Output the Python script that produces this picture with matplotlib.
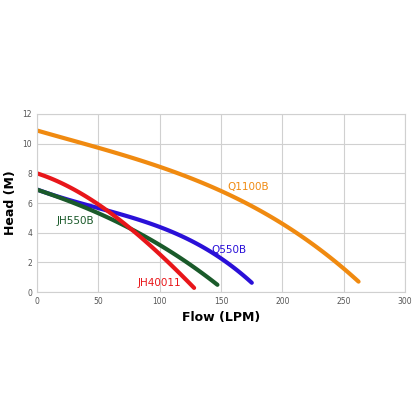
import matplotlib.pyplot as plt
import numpy as np

q1100_x = [0, 50, 100, 150, 200, 230, 262]
q1100_y = [10.9, 9.7, 8.4, 6.9, 4.6, 2.8, 0.75]
q550_x = [0, 50, 100, 130, 150, 175]
q550_y = [6.9, 5.7, 4.3, 3.3, 2.3, 0.6]
jh550_x = [0, 50, 100, 125, 147]
jh550_y = [6.9, 5.3, 3.2, 1.8, 0.5]
jh400_x = [0, 50, 80, 100, 115, 128]
jh400_y = [8.0, 5.9, 4.0, 2.6, 1.3, 0.3]

def smooth(x, y):
  xs = np.linspace(x[0], x[-1], 100)
  c = np.polyfit(x, y, min(3, len(x) - 1))
  return xs, np.polyval(c, xs)

fig = plt.figure(figsize=(4.16, 4.16), dpi=100)
ax = fig.add_axes([0.089, 0.298, 0.885, 0.428])
for x, y, col, name, lx, ly in [
    (q1100_x, q1100_y, '#f08a10', 'Q1100B', 155, 6.9),
    (q550_x, q550_y, '#2a10d8', 'Q550B', 142, 2.6),
    (jh550_x, jh550_y, '#1a5a2a', 'JH550B', 16, 4.6),
    (jh400_x, jh400_y, '#e8161a', 'JH40011', 82, 0.4)]:
  xs, ys = smooth(x, y)
  ax.plot(xs, ys, color=col, lw=3, solid_capstyle='round')
  ax.text(lx, ly, name, color=col, fontsize=7.5)

ax.set_xlim(0, 300)
ax.set_ylim(0, 12)
ax.set_xticks(range(0, 301, 50))
ax.set_yticks(range(0, 13, 2))
ax.grid(color='#d0d0d0', lw=0.8)
ax.tick_params(labelsize=5.5, length=0, colors='#555555')
for s in ax.spines.values():
  s.set_color('#d0d0d0')
ax.set_xlabel('Flow (LPM)', fontsize=9, fontweight='bold')
ax.set_ylabel('Head (M)', fontsize=9, fontweight='bold')
fig.savefig('out.png', dpi=100)
